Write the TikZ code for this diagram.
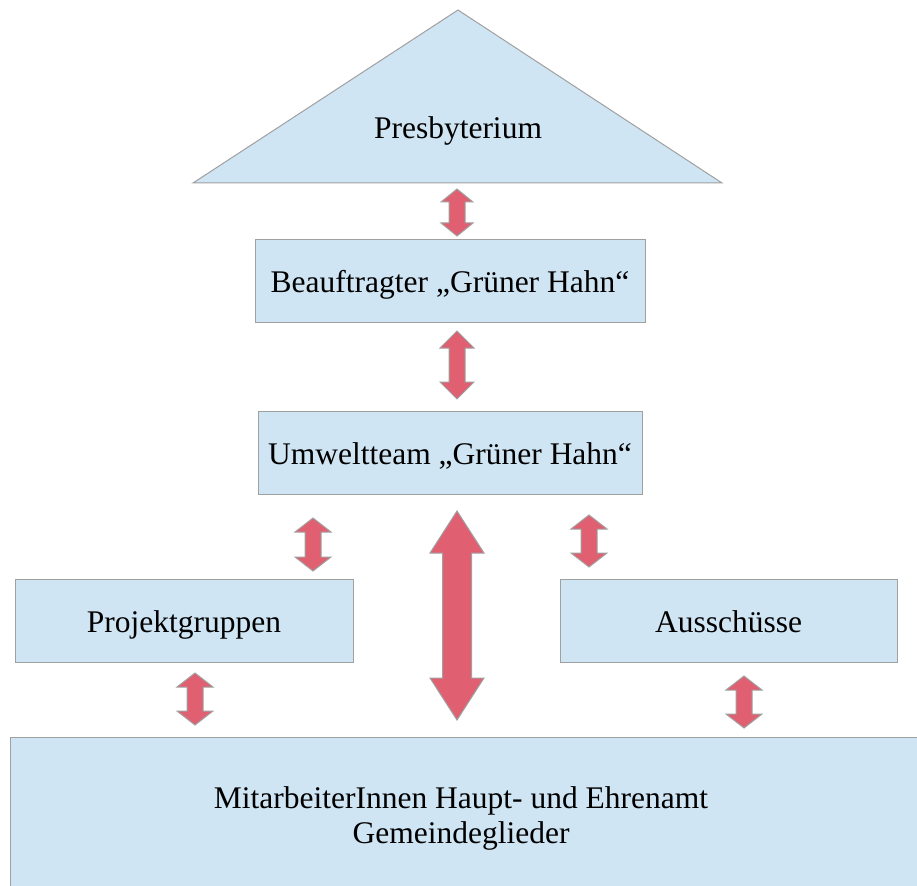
\documentclass[tikz,border=0pt]{standalone}
\usepackage{fontspec}
\setmainfont{Liberation Serif}
\usepackage{tikz}
\usepackage{xcolor}
\usetikzlibrary{calc}

\definecolor{boxblue}{HTML}{CFE5F3}
\definecolor{boxline}{HTML}{A0A0A0}
\definecolor{arrowred}{HTML}{E06072}

\tikzset{
    box/.style={draw=boxline, fill=boxblue, line width=1pt, inner sep=0pt},
    txt/.style={text height=28pt, text depth=5pt},
    arr/.style={draw=boxline, fill=arrowred, line width=1pt, line join=miter}
}

% #1 top, #2 bottom, #3 half head width, #4 half shaft width, #5 head length
\newcommand{\dblarrow}[5]{%
    \filldraw[arr] let \p1=(#1), \p2=(#2) in
        (\x1,\y1) -- (\x1+#3pt,\y1-#5pt) -- (\x1+#4pt,\y1-#5pt)
        -- (\x1+#4pt,\y2+#5pt) -- (\x1+#3pt,\y2+#5pt) -- (\x1,\y2)
        -- (\x1-#3pt,\y2+#5pt) -- (\x1-#4pt,\y2+#5pt)
        -- (\x1-#4pt,\y1-#5pt) -- (\x1-#3pt,\y1-#5pt) -- cycle;
}

\begin{document}
\begin{tikzpicture}[x=1pt, y=-1pt, font=\fontsize{31.5}{35}\selectfont]
        \useasboundingbox (0,0) rectangle (917,885);
        \draw[box] (193,183) -- (458,10) -- (722,183) -- cycle;
        \node[txt](presb) at (458,127) {Presbyterium};
        \node[box, txt, minimum width=390pt, minimum height=83pt](beauf) at (450,280.5) {Beauftragter „Grüner Hahn“};
        \node[box, txt, minimum width=384pt, minimum height=83pt](umwelt) at (450,452.5) {Umweltteam „Grüner Hahn“};
        \node[box, txt, minimum width=338pt, minimum height=83pt](projekt) at (184,620.5) {Projektgruppen};
        \node[box, txt, minimum width=337pt, minimum height=83pt](aussch) at (728.5,620.5) {Ausschüsse};
        \draw[box] (10,737) rectangle (940,900);
        \node[align=center](basis) at (461,818) {MitarbeiterInnen Haupt- und Ehrenamt\\Gemeindeglieder};
        \coordinate(a1t) at (457,189);
        \coordinate(a1b) at (457,236);
        \coordinate(a2t) at (457,331);
        \coordinate(a2b) at (457,399);
        \coordinate(a3t) at (313,518);
        \coordinate(a3b) at (313,571);
        \coordinate(a4t) at (457,511);
        \coordinate(a4b) at (457,720);
        \coordinate(a5t) at (589,515);
        \coordinate(a5b) at (589,567);
        \coordinate(a6t) at (195,673);
        \coordinate(a6b) at (195,725);
        \coordinate(a7t) at (744,676);
        \coordinate(a7b) at (744,728);
        \dblarrow{a1t}{a1b}{16}{8}{13}
        \dblarrow{a2t}{a2b}{17}{8}{17}
        \dblarrow{a3t}{a3b}{18}{8}{14}
        \dblarrow{a4t}{a4b}{27}{14.5}{42}
        \dblarrow{a5t}{a5b}{18}{8}{14}
        \dblarrow{a6t}{a6b}{18}{8}{14}
        \dblarrow{a7t}{a7b}{18}{8}{14}
        \end{tikzpicture}
\end{document}
